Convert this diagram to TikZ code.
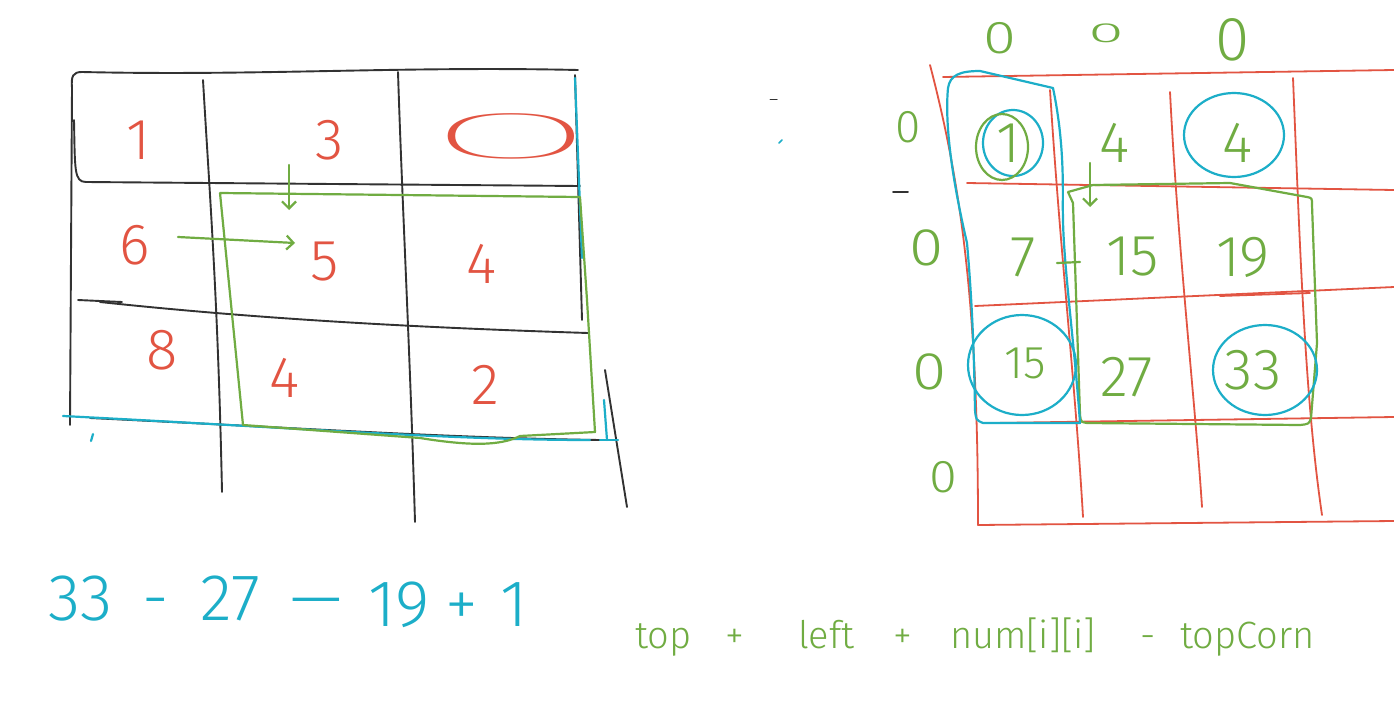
\documentclass[tikz,border=0pt]{standalone}
\usepackage{fontspec}
\setmainfont{Fira Sans Light}
\newfontfamily\thinfont{Fira Sans Thin}
\usetikzlibrary{arrows.meta}
\definecolor{inkred}{RGB}{226,84,66}
\definecolor{inkgreen}{RGB}{112,172,66}
\definecolor{inkcyan}{RGB}{28,174,200}
\definecolor{inkgray}{RGB}{50,50,50}
\begin{document}
\begin{tikzpicture}[x=1pt,y=-1pt,line cap=round,line join=round,
  gridline/.style={inkgray,line width=1.9pt},
  redline/.style={inkred,line width=1.8pt},
  greenline/.style={inkgreen,line width=2.2pt},
  cyanline/.style={inkcyan,line width=2.2pt},
  rednum/.style={text=inkred,font=\fontsize{58}{58}\selectfont,inner sep=0pt},
  greennum/.style={text=inkgreen,font=\fontsize{58}{58}\selectfont,inner sep=0pt},
  zero/.style={text=inkgreen,font=\fontsize{46}{46}\selectfont,inner sep=0pt},
  cyantxt/.style={text=inkcyan,font=\fontsize{66}{66}\selectfont,inner sep=0pt,anchor=base west},
  greentxt/.style={text=inkgreen,font=\fontsize{38}{38}\selectfont,inner sep=0pt,anchor=base west},
  arr/.style={greenline,-{Straight Barb[length=7pt,width=14pt]}}]
\useasboundingbox (0,0) rectangle (1394,715);
\fill[white] (0,0) rectangle (1394,715);

% ---------- left grid (black) ----------
\draw[gridline] (578,70) .. controls (400,66) and (260,76) .. (82,72)
  .. controls (73,72) and (71,76) .. (72,88) -- (70,425);
\draw[gridline] (74,120) .. controls (75,170) and (74,182) .. (86,182) -- (580,186);
\draw[gridline] (78,300) -- (122,302);
\draw[gridline] (100,302) .. controls (250,318) and (400,327) .. (588,333);
\draw[gridline] (203,80) .. controls (210,200) and (218,300) .. (222,492);
\draw[gridline] (398,72) .. controls (402,200) and (410,350) .. (415,522);
\draw[gridline] (575,75) -- (582,320);
\draw[gridline] (605,370) -- (627,507);
\draw[gridline] (90,418) .. controls (300,428) and (450,438) .. (600,440);
% cyan strokes on the left grid
\draw[cyanline] (63,416) .. controls (300,428) and (450,440) .. (590,440);
\draw[cyanline] (575,78) -- (582,258);
\draw[cyanline] (604,400) -- (607,440);
\draw[cyanline] (600,440) -- (618,440);
\draw[cyanline] (93,434) -- (91,441);

% green rectangle, left
\draw[greenline] (220,193) -- (580,197) -- (587,300) -- (595,432) -- (520,436)
  .. controls (500,446) and (470,446) .. (420,438) -- (243,425) -- (220,193);

% red numbers, left
\node[rednum] (l1) at (138,140) {1};
\node[rednum] (l3) at (330,140) {3};
\node[rednum,font=\thinfont\fontsize{58}{58}\selectfont,xscale=5.6,yscale=1.15] (l0) at (511,136) {0};
\node[rednum] (l6) at (135,245) {6};
\node[rednum] (l5) at (325,262) {5};
\node[rednum] (l4a) at (482,264) {4};
\node[rednum] (l8) at (162,350) {8};
\node[rednum] (l4b) at (285,378) {4};
\node[rednum] (l2) at (485,385) {2};

\coordinate (a3) at (289,165);
\coordinate (a3e) at (289,210);
\coordinate (a6) at (178,237);
\coordinate (a6e) at (295,243);
\draw[arr] (a3) -- (a3e);
\draw[arr] (a6) -- (a6e);

% ---------- right grid (red) ----------
\draw[redline] (930,65) .. controls (960,180) and (978,300) .. (978,525) -- (1394,521);
\draw[redline] (943,77) -- (1394,70);
\draw[redline] (967,183) -- (1394,190);
\draw[redline] (975,306) -- (1394,287);
\draw[redline] (1220,296) -- (1310,293);
\draw[redline] (993,423) -- (1394,417);
\draw[redline] (1050,90) .. controls (1060,250) and (1075,380) .. (1083,517);
\draw[redline] (1170,92) .. controls (1178,250) and (1195,400) .. (1202,507);
\draw[redline] (1293,78) .. controls (1300,250) and (1305,400) .. (1322,515);

% green rectangle, right
\draw[greenline] (1068,192) -- (1093,185) -- (1230,183) -- (1307,197) .. controls (1312,198) .. (1312,205)
  -- (1317,343) -- (1311,418) .. controls (1309,424) .. (1300,425) -- (1087,423)
  .. controls (1081,422) .. (1080,415) -- (1073,203) -- (1068,192);

% cyan outlines
\draw[cyanline] (948,88) .. controls (950,75) and (960,71) .. (980,71)
  -- (1053,88) .. controls (1066,150) and (1062,200) .. (1063,217)
  .. controls (1063,260) and (1075,350) .. (1080,423)
  -- (983,423) .. controls (976,420) .. (975,410)
  .. controls (974,350) and (972,300) .. (967,243)
  .. controls (950,170) and (945,120) .. (948,88);
\draw[cyanline] (1013,143) ellipse [x radius=30,y radius=33];
\draw[cyanline] (1234,135) ellipse [x radius=50,y radius=42];
\draw[cyanline] (1022,365) ellipse [x radius=54,y radius=50];
\draw[cyanline] (1265,370) ellipse [x radius=52,y radius=45];
\draw[greenline] (1002,147) ellipse [x radius=26,y radius=33];

% green numbers, right
\node[greennum] (r1) at (1008,143) {1};
\node[greennum] (r4a) at (1115,143) {4};
\node[greennum] (r4b) at (1238,143) {4};
\node[greennum] (r7) at (1023,257) {7};
\node[greennum] (r15a) at (1133,257) {15};
\node[greennum] (r19) at (1243,257) {19};
\node[greennum,font=\fontsize{46}{46}\selectfont] (r15b) at (1025,363) {15};
\node[greennum] (r27) at (1127,377) {27};
\node[greennum] (r33) at (1253,370) {33};

% green zeros
\node[zero,xscale=1.3] (t0a) at (1000,38) {0};
\node[zero,xscale=1.4,yscale=0.6] (t0b) at (1106,33) {0};
\node[zero,scale=1.35] (t0c) at (1233,40) {0};
\node[zero] (s0a) at (908,127) {0};
\node[zero,xscale=1.35,yscale=1.15] (s0b) at (927,248) {0};
\node[zero,xscale=1.35,yscale=1.15] (s0c) at (930,372) {0};
\node[zero,xscale=1.1] (s0d) at (943,477) {0};

\coordinate (b4) at (1090,163);
\coordinate (b4e) at (1090,207);
\draw[arr] (b4) -- (b4e);
\draw[greenline] (1057,263) -- (1080,262);

% stray marks
\draw[gridline] (893,192) -- (908,192);
\draw[inkgray,line width=1pt] (770,99) -- (777,99);
\draw[inkcyan,line width=1.5pt] (779,143) -- (782,140);

% ---------- bottom formulas ----------
\node[cyantxt] (c33) at (48,620) {33};
\node[cyantxt] (cm1) at (142,620) {-};
\node[cyantxt] (c27) at (200,620) {27};
\node[cyantxt] (cm2) at (290,620) {\textemdash};
\node[cyantxt] (c19) at (368,626) {19};
\node[cyantxt] (cp) at (445,626) {+};
\node[cyantxt] (c1) at (500,626) {1};

\node[greentxt] (gtop) at (635,648) {top};
\node[greentxt] (gp1) at (725,648) {+};
\node[greentxt] (gleft) at (798,648) {left};
\node[greentxt] (gp2) at (893,648) {+};
\node[greentxt] (gnum) at (950,648) {num[i][i]};
\node[greentxt] (gm) at (1140,648) {-};
\node[greentxt] (gtc) at (1180,648) {topCorn};
\end{tikzpicture}
\end{document}
